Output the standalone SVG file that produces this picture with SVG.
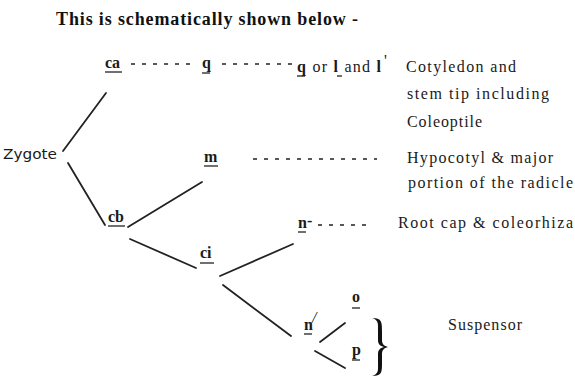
<svg xmlns="http://www.w3.org/2000/svg" width="575" height="380" viewBox="0 0 575 380">
<style>
.t{font-family:"Liberation Serif","DejaVu Serif",serif;font-size:16px;fill:#1a1a1a}
.lbl{font-family:"Liberation Serif","DejaVu Serif",serif;font-size:16px;font-weight:bold;fill:#1a1a1a}
.title{font-family:"Liberation Serif","DejaVu Serif",serif;font-size:18px;font-weight:bold;fill:#111}
.sans{font-family:"DejaVu Sans","Liberation Sans",sans-serif;font-size:14px;fill:#1a1a1a}
.ln{stroke:#222;stroke-width:1.8;fill:none;stroke-linecap:round}
.ds{stroke:#222;stroke-width:1.6;fill:none;stroke-dasharray:4 7}
.ul{stroke:#222;stroke-width:1.3}
</style>
<rect width="575" height="380" fill="#fff"/>
<text class="title" x="56" y="25" textLength="302" lengthAdjust="spacing">This is schematically shown below -</text>

<g id="zygote"><text class="sans" x="3" y="159" textLength="54" lengthAdjust="spacingAndGlyphs">Zygote</text></g>
<g id="ca"><text class="lbl" x="105" y="68">ca</text><line class="ul" x1="105" y1="72" x2="122" y2="72"/></g>
<g id="q1"><text class="lbl" x="202" y="68">q</text><line class="ul" x1="202" y1="73" x2="210" y2="73"/></g>
<g id="q2"><text class="t" x="297" y="72" textLength="84" lengthAdjust="spacing"><tspan font-weight="bold">q</tspan> or <tspan font-weight="bold">l</tspan> and <tspan font-weight="bold">l</tspan></text>
<line class="ul" x1="297" y1="76" x2="305" y2="76"/><line class="ul" x1="337" y1="76" x2="342" y2="76"/>
<text class="t" x="384" y="66" font-size="10">'</text></g>
<g id="cotyledon"><text class="t" x="406" y="72" textLength="110" lengthAdjust="spacing">Cotyledon and</text>
<text class="t" x="407" y="99" textLength="142" lengthAdjust="spacing">stem tip including</text>
<text class="t" x="407" y="127" textLength="75" lengthAdjust="spacing">Coleoptile</text></g>

<g id="m"><text class="lbl" x="204" y="162">m</text><line class="ul" x1="204" y1="166" x2="218" y2="166"/></g>
<g id="hypocotyl"><text class="t" x="407" y="163" textLength="146" lengthAdjust="spacing">Hypocotyl &amp; major</text>
<text class="t" x="408" y="188" textLength="165" lengthAdjust="spacing">portion of the radicle</text></g>

<g id="cb"><text class="lbl" x="108" y="222">cb</text><line class="ul" x1="108" y1="226" x2="125" y2="226"/></g>
<g id="ci"><text class="lbl" x="200" y="258">ci</text><line class="ul" x1="200" y1="263" x2="214" y2="263"/></g>
<g id="n"><text class="lbl" x="298" y="228">n</text><line class="ul" x1="298" y1="232" x2="306" y2="232"/><text class="lbl" x="307" y="226" font-size="10">-</text></g>
<g id="rootcap"><text class="t" x="398" y="228" textLength="175" lengthAdjust="spacing">Root cap &amp; coleorhiza</text></g>

<g id="n1"><text class="lbl" x="304" y="330">n</text><text class="t" x="312" y="323" font-size="10" font-style="italic">/</text><line class="ul" x1="304" y1="334" x2="312" y2="334"/></g>
<g id="o"><text class="lbl" x="352" y="302">o</text><line class="ul" x1="352" y1="308" x2="360" y2="308"/></g>
<g id="p"><text class="lbl" x="352" y="355">p</text><line class="ul" x1="352" y1="360" x2="360" y2="360"/></g>
<g id="brace"><path d="M372,318 C382,318 382,322 382,332 L382,340 C382,344 384,346 388,347 C384,348 382,350 382,354 L382,363 C382,372 382,376 372,376 C379,374 378,370 378,363 L378,354 C378,350 380,348 384,347 C380,346 378,344 378,340 L378,332 C378,324 379,320 372,318 Z" fill="#111"/></g>
<g id="suspensor"><text class="t" x="448" y="330" textLength="74" lengthAdjust="spacing">Suspensor</text></g>

<g id="connectors">
<line class="ln" x1="63" y1="151" x2="106" y2="93"/>
<line class="ln" x1="68" y1="163" x2="105" y2="225"/>
<line class="ln" x1="128" y1="227" x2="202" y2="182"/>
<line class="ln" x1="130" y1="239" x2="196" y2="268"/>
<line class="ln" x1="220" y1="276" x2="293" y2="244"/>
<line class="ln" x1="223" y1="285" x2="291" y2="336"/>
<line class="ln" x1="320" y1="342" x2="345" y2="323"/>
<line class="ln" x1="315" y1="351" x2="345" y2="368"/>
<line class="ds" x1="131" y1="64" x2="197" y2="64"/>
<line class="ds" x1="222" y1="64" x2="292" y2="64"/>
<line class="ds" x1="253" y1="159" x2="377" y2="159"/>
<line class="ds" x1="318" y1="225" x2="370" y2="225"/>
</g>
</svg>
